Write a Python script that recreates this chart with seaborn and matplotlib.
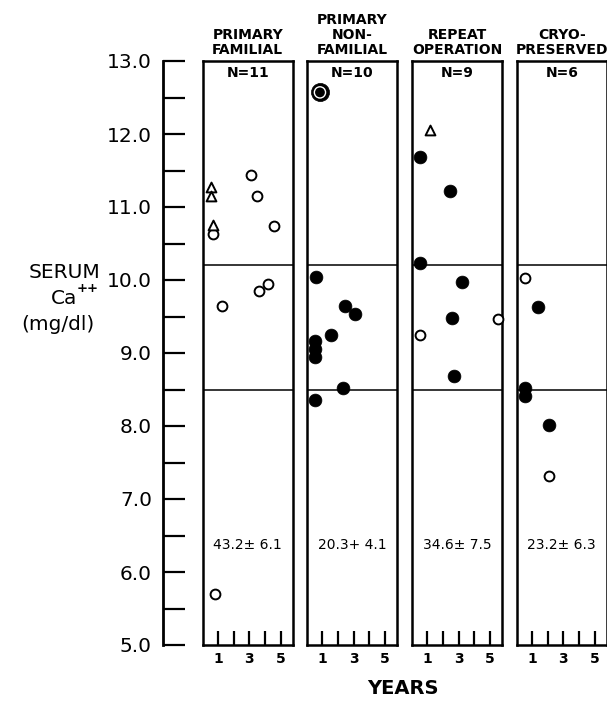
import matplotlib
matplotlib.use("Agg")
import matplotlib.pyplot as plt
from matplotlib.ticker import MultipleLocator, FormatStrFormatter
import seaborn as sns
import pandas as pd

# DATA
groups = ["PRIMARY\nFAMILIAL", "PRIMARY\nNON-\nFAMILIAL", "REPEAT\nOPERATION", "CRYO-\nPRESERVED"]
n_labels = ["N=11", "N=10", "N=9", "N=6"]
mean_labels = ["43.2± 6.1", "20.3+ 4.1", "34.6± 7.5", "23.2± 6.3"]

fam_years = [0.55, 0.55, 0.65, 0.65, 3.1, 3.5, 4.6, 4.2, 3.65, 1.25, 0.8]
fam_ca = [11.28, 11.15, 10.76, 10.63, 11.44, 11.15, 10.74, 9.95, 9.85, 9.65, 5.70]
fam_kind = ["tri", "tri", "tri", "open", "open", "open", "open", "open", "open", "open", "open"]

nonfam_years = [0.85, 0.6, 2.45, 3.1, 1.55, 0.5, 0.5, 0.55, 2.3, 0.55]
nonfam_ca = [12.57, 10.04, 9.65, 9.53, 9.25, 9.17, 9.05, 8.95, 8.52, 8.35]
nonfam_kind = ["double", "filled", "filled", "filled", "filled", "filled", "filled", "filled", "filled", "filled"]

repeat_years = [1.2, 0.55, 2.45, 0.55, 3.25, 2.6, 5.5, 0.5, 2.7]
repeat_ca = [12.05, 11.68, 11.22, 10.23, 9.97, 9.48, 9.46, 9.25, 8.68]
repeat_kind = ["tri", "filled", "filled", "filled", "filled", "filled", "open", "open", "filled"]

cryo_years = [0.55, 1.35, 0.55, 0.55, 2.1, 2.1]
cryo_ca = [10.03, 9.63, 8.52, 8.41, 8.02, 7.32]
cryo_kind = ["open", "filled", "filled", "filled", "filled", "open"]

upper_normal = 10.2
lower_normal = 8.5
mean_label_y = 6.37

frames = []
for g, yrs, ca, kind in zip(groups,
                            [fam_years, nonfam_years, repeat_years, cryo_years],
                            [fam_ca, nonfam_ca, repeat_ca, cryo_ca],
                            [fam_kind, nonfam_kind, repeat_kind, cryo_kind]):
    frames.append(pd.DataFrame({"group": g, "year": yrs, "ca": ca, "kind": kind}))
df = pd.concat(frames, ignore_index=True)

sns.set_style("white")
plt.rcParams["font.family"] = ["DejaVu Sans"]
for key in ["text.color", "axes.labelcolor", "xtick.color", "ytick.color"]:
    plt.rcParams[key] = "black"

W, H = 607, 701
fig = plt.figure(figsize=(W / 100, H / 100), dpi=100)

top_px, bot_px = 61, 645
panel_lefts = [202.5, 306.7, 411.7, 516.5]
panel_w = 90.5

styles = {
    "open": dict(marker="o", s=50, color="white", edgecolor="black", linewidth=1.4),
    "tri": dict(marker="^", s=50, color="white", edgecolor="black", linewidth=1.4),
    "filled": dict(marker="o", s=85, color="black", edgecolor="black", linewidth=0.5),
    "double": dict(marker="o", s=170, color="black", edgecolor="black", linewidth=0.5),
}

for i, g in enumerate(groups):
    ax = fig.add_axes([panel_lefts[i] / W, 1 - bot_px / H, panel_w / W, (bot_px - top_px) / H])
    sub = df[df["group"] == g]
    for kind, st in styles.items():
        part = sub[sub["kind"] == kind]
        if len(part):
            sns.scatterplot(data=part, x="year", y="ca", ax=ax, clip_on=False, zorder=5, legend=False, **st)
            if kind == "double":
                sns.scatterplot(data=part, x="year", y="ca", ax=ax, marker="o", s=65, color="none",
                                edgecolor="white", linewidth=1.0, clip_on=False, zorder=6, legend=False)
    ax.axhline(upper_normal, color="black", lw=1.1)
    ax.axhline(lower_normal, color="black", lw=1.1)
    ax.set_xlim(0, 5.8)
    ax.set_ylim(5, 13)
    ax.set_xlabel("")
    ax.set_ylabel("")
    ax.set_yticks([])
    ax.set_xticks([1, 2, 3, 4, 5])
    ax.set_xticklabels(["1", "", "3", "", "5"], fontweight="bold", fontsize=10)
    ax.tick_params(axis="x", direction="in", length=10, width=1.6, pad=5, bottom=True)
    for sp in ax.spines.values():
        sp.set_linewidth(1.8)
        sp.set_color("black")
    ax.set_title(g, fontsize=10, fontweight="bold", pad=5, linespacing=1.1)
    ax.text(0.5, 0.979, n_labels[i], transform=ax.transAxes, ha="center", va="center",
            fontsize=10, fontweight="bold")
    ax.text(0.5, mean_label_y, mean_labels[i], transform=ax.get_yaxis_transform(),
            ha="center", va="center", fontsize=10)

# separate y scale on the left
spine_px = 163
yax = fig.add_axes([spine_px / W, 1 - bot_px / H, 0.02, (bot_px - top_px) / H])
yax.set_ylim(5, 13)
yax.set_xticks([])
yax.patch.set_alpha(0)
for side in ["top", "right", "bottom"]:
    yax.spines[side].set_visible(False)
yax.spines["left"].set_linewidth(2)
yax.spines["left"].set_color("black")
yax.yaxis.set_major_locator(MultipleLocator(1))
yax.yaxis.set_minor_locator(MultipleLocator(0.5))
yax.yaxis.set_major_formatter(FormatStrFormatter("%.1f"))
yax.tick_params(axis="y", which="both", direction="in", length=16, width=1.6, left=True)
yax.tick_params(axis="y", which="major", labelsize=14.5, pad=8)

fig.text(64 / W, 1 - 273 / H, "SERUM", ha="center", va="center", fontsize=14.5)
fig.text(64 / W, 1 - 299 / H, "Ca", ha="center", va="center", fontsize=14.5)
fig.text(77 / W, 1 - 289 / H, "++", ha="left", va="center", fontsize=9.5, fontweight="bold")
fig.text(58 / W, 1 - 324 / H, "(mg/dl)", ha="center", va="center", fontsize=14.5)
fig.text(403 / W, 1 - 689 / H, "YEARS", ha="center", va="center", fontsize=14, fontweight="bold")

fig.savefig("out.png", dpi=100)
